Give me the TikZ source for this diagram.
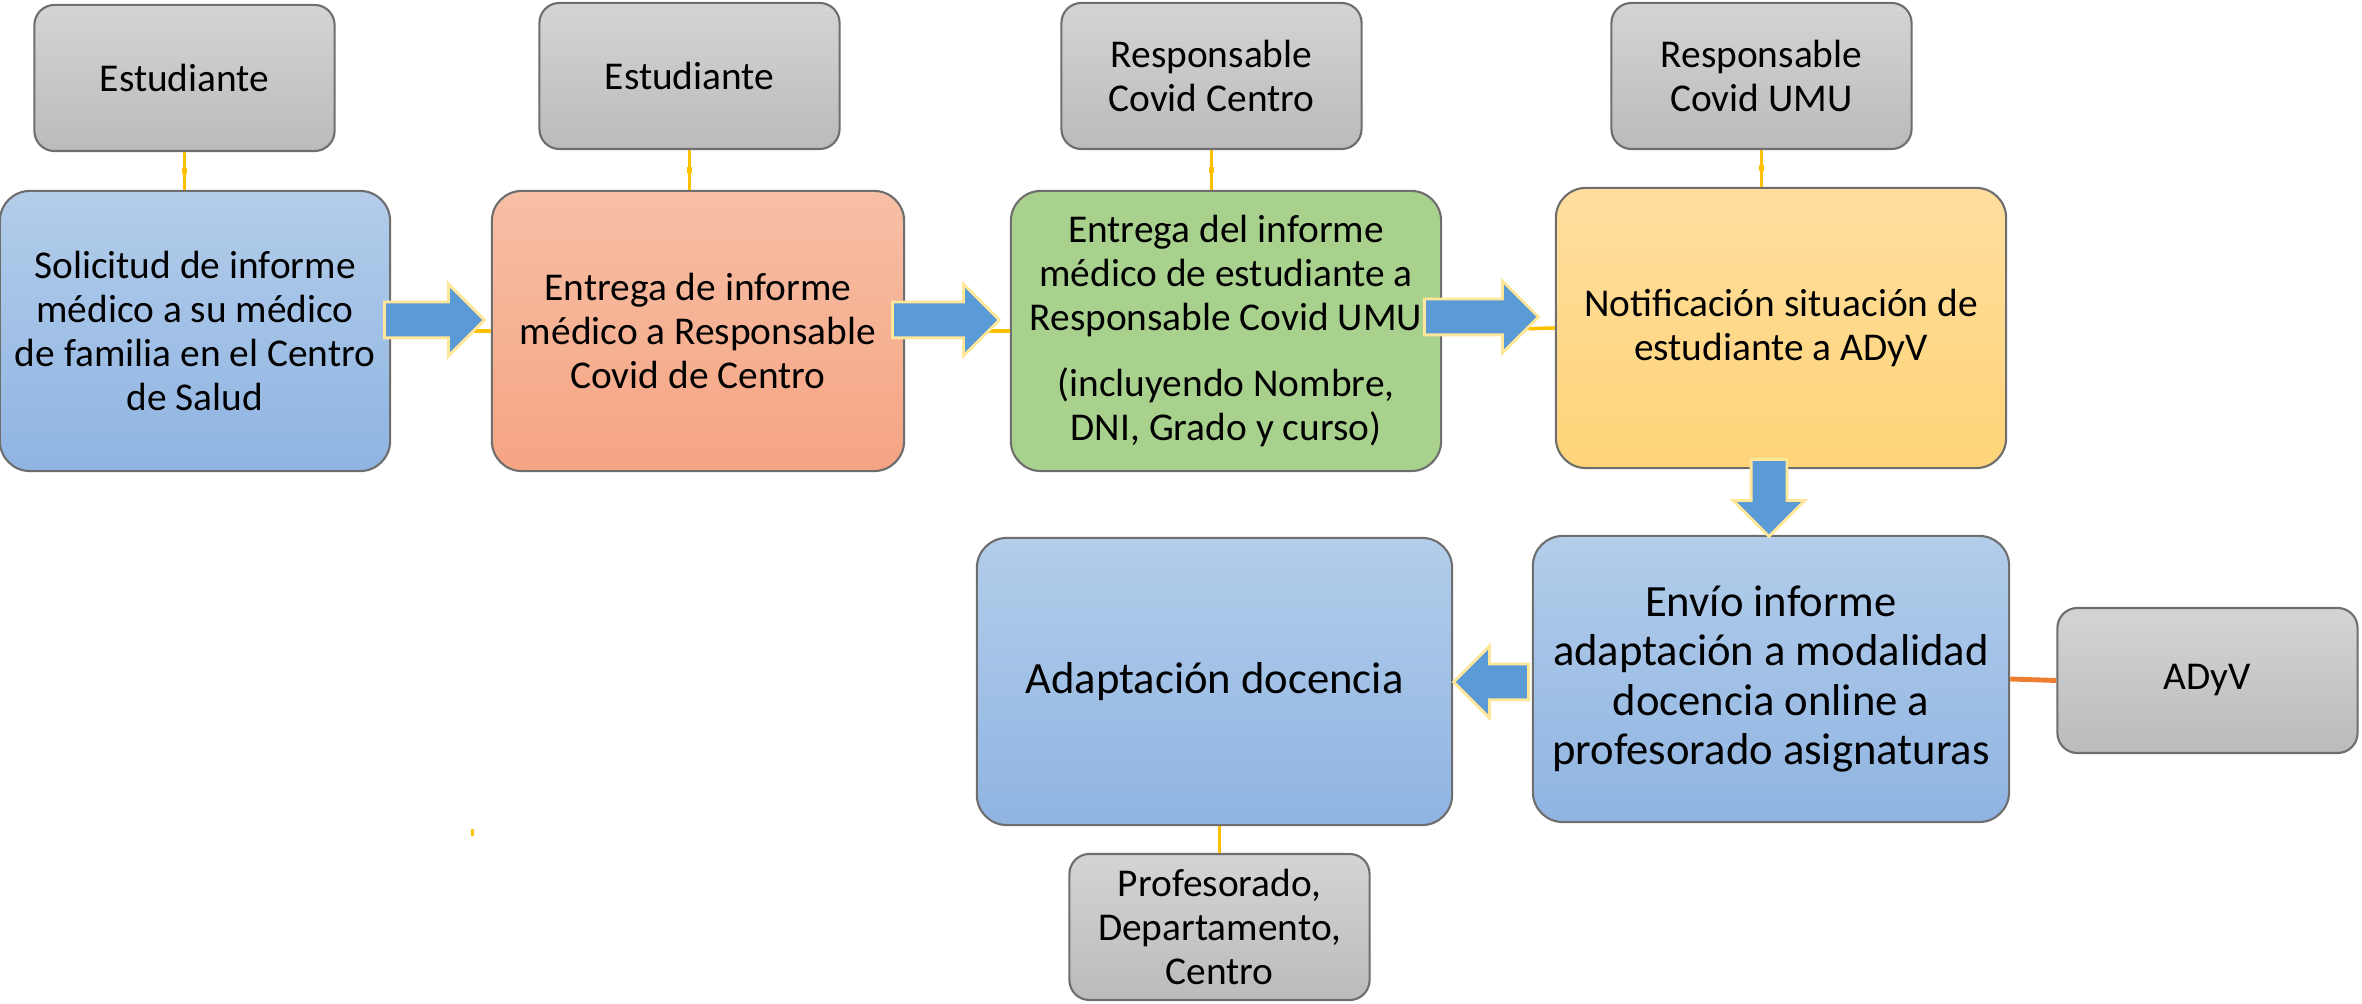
\documentclass[tikz,border=0pt]{standalone}
\usepackage{fontspec}
\setmainfont{Carlito}
\usetikzlibrary{shapes,arrows,positioning,calc}

\definecolor{graytop}{HTML}{D4D4D4}
\definecolor{graybot}{HTML}{BBBBBB}
\definecolor{boxline}{HTML}{6E6E6E}
\definecolor{bluetop}{HTML}{B3CDEA}
\definecolor{bluebot}{HTML}{8FB4E2}
\definecolor{orangetop}{HTML}{F7BFA6}
\definecolor{orangebot}{HTML}{F5A482}
\definecolor{greenfill}{HTML}{A9D18E}
\definecolor{yellowtop}{HTML}{FFDE9E}
\definecolor{yellowbot}{HTML}{FFD479}
\definecolor{arrowblue}{HTML}{5B9BD5}
\definecolor{arrowline}{HTML}{FFE699}
\definecolor{gold}{HTML}{FFC000}
\definecolor{linkorange}{HTML}{ED7D31}

\begin{document}
\begin{tikzpicture}[x=0.01cm,y=-0.01cm,
    role/.style={draw=boxline,line width=0.6pt,rounded corners=0.2cm,
      top color=graytop,bottom color=graybot,align=center,inner sep=0pt,
      minimum width=3cm,minimum height=1.46cm,
      font=\fontsize{11.2}{12.5}\selectfont},
    stepbox/.style={draw=boxline,line width=0.6pt,rounded corners=0.3cm,
      align=center,inner sep=0pt,font=\fontsize{11.2}{12.5}\selectfont},
    bluebox/.style={stepbox,top color=bluetop,bottom color=bluebot},
    bigtext/.style={font=\fontsize{12.7}{14}\selectfont},
    flow/.style={single arrow,draw=arrowline,fill=arrowblue,line width=0.8pt,
      inner xsep=0pt,inner ysep=0.165cm,single arrow head extend=0.18cm,
      single arrow tip angle=90,anchor=tail},
    link/.style={draw=gold,line width=1pt},
    dot/.style={fill=gold,inner sep=0pt,minimum width=0.05cm,minimum height=0.06cm}]
      \useasboundingbox (0,0) rectangle (2362,1004);

      \coordinate (e1) at (184.5,78);
      \coordinate (s) at (195,331);
      \coordinate (e2) at (689.5,76);
      \coordinate (m) at (698,331);
      \coordinate (rc) at (1211.5,76);
      \coordinate (g) at (1226,331);
      \coordinate (ru) at (1761.5,76);
      \coordinate (n) at (1781,328);
      \coordinate (v) at (1771,679);
      \coordinate (d) at (2207.5,680.5);
      \coordinate (ad) at (1214.5,681.5);
      \coordinate (p) at (1219.5,927);

      % top row
      \node[role] (est1n) at (e1) {Estudiante};
      \node[bluebox,minimum width=3.9cm,minimum height=2.8cm] (soln) at (s)
        {Solicitud de informe\\ médico a su médico\\ de familia en el Centro\\ de Salud};
      \node[role] (est2n) at (e2) {Estudiante};
      \node[stepbox,top color=orangetop,bottom color=orangebot,
        minimum width=4.12cm,minimum height=2.8cm] (entn) at (m)
        {Entrega de informe\\ médico a Responsable\\ Covid de Centro};
      \node[role] (rccn) at (rc) {Responsable\\ Covid Centro};
      \node[stepbox,fill=greenfill,minimum width=4.3cm,minimum height=2.8cm] (grnn) at (g)
        {Entrega del informe\\ médico de estudiante a\\ Responsable Covid UMU\\[0.22cm]
         (incluyendo Nombre,\\ DNI, Grado y curso)};
      \node[role] (rcun) at (ru) {Responsable\\ Covid UMU};
      \node[stepbox,top color=yellowtop,bottom color=yellowbot,
        minimum width=4.5cm,minimum height=2.8cm] (yeln) at (n)
        {Notificación situación de\\ estudiante a ADyV};

      % bottom row
      \node[bluebox,bigtext,minimum width=4.76cm,minimum height=2.86cm] (envn) at (v)
        {Envío informe\\ adaptación a modalidad\\ docencia online a\\ profesorado asignaturas};
      \node[role,minimum height=1.45cm] (adyvn) at (d) {ADyV};
      \node[bluebox,bigtext,minimum width=4.75cm,minimum height=2.87cm] (adan) at (ad)
        {Adaptación docencia};
      \node[role] (profn) at (p) {Profesorado,\\ Departamento,\\ Centro};

      \draw[link] (est1n.south) -- node[dot] {} (est1n.south |- soln.north);
      \draw[link] (est2n.south) -- node[dot] {} (est2n.south |- entn.north);
      \draw[link] (rccn.south) -- node[dot] {} (rccn.south |- grnn.north);
      \draw[link] (rcun.south) -- node[dot] {} (rcun.south |- yeln.north);
      \draw[link] (soln.east) -- (entn.west);
      \draw[link] (entn.east) -- (grnn.west);
      \draw[link] (grnn.east) -- (yeln.west);
      \draw[link] (adan.south -| profn.north) -- (profn.north);
      \draw[draw=linkorange,line width=1.4pt] (envn.east) -- (adyvn.west);
      \fill[gold] (470.5,829) rectangle (473.5,836);

      \node[flow,minimum height=1cm] (f1) at (383,320) {};
      \node[flow,minimum height=1.07cm] (f2) at (891,320) {};
      \node[flow,minimum height=1.14cm] (f3) at (1423,317) {};
      \node[flow,minimum height=0.77cm,rotate=-90] (f4) at (1769,458) {};
      \node[flow,minimum height=0.75cm,rotate=180] (f5) at (1530,682) {};
    \end{tikzpicture}
\end{document}
